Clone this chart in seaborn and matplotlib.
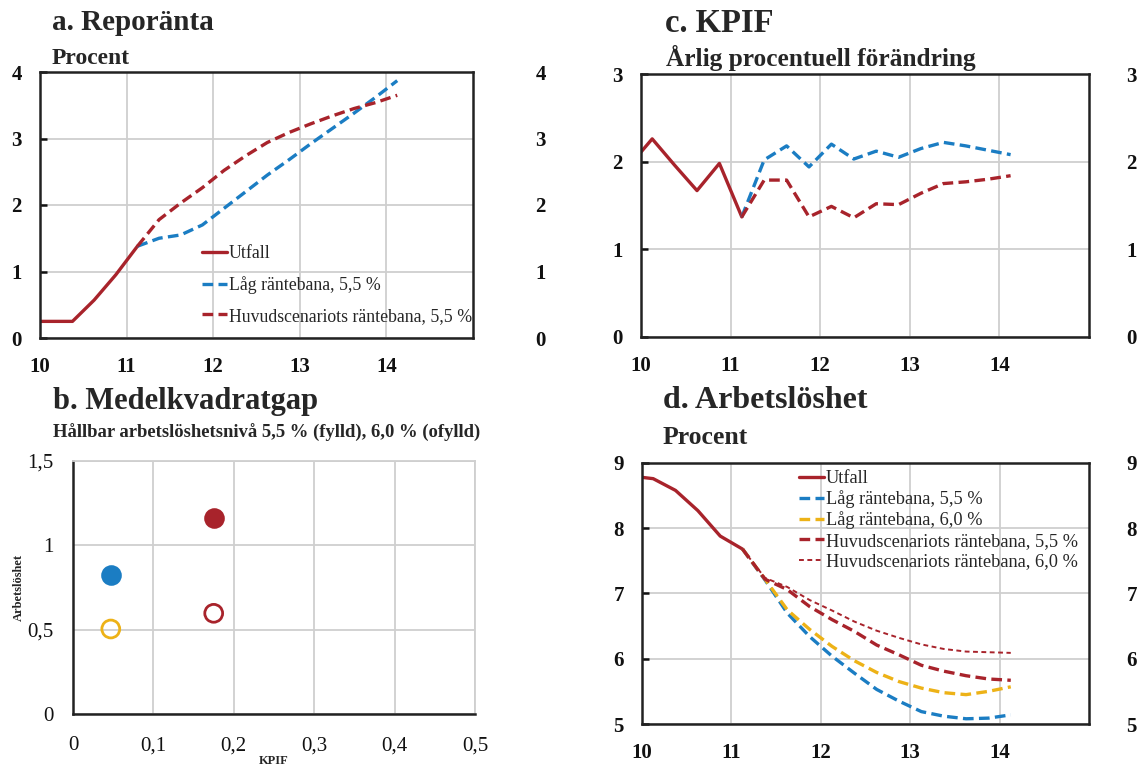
import numpy as np
import pandas as pd
import matplotlib
matplotlib.use("Agg")
import matplotlib.pyplot as plt
import seaborn as sns

# ---------------- data ----------------
# a. Reporänta
q_out = [9.875, 10.125, 10.375, 10.625, 10.875, 11.125]
q_fc = [11.125, 11.375, 11.625, 11.875, 12.125, 12.375, 12.625, 12.875,
        13.125, 13.375, 13.625, 13.875, 14.125]
repo_out = [0.25, 0.25, 0.25, 0.57, 0.95, 1.38]
repo_low55 = [1.38, 1.50, 1.55, 1.70, 1.95, 2.20, 2.45, 2.68, 2.92, 3.15, 3.38, 3.62, 3.87]
repo_main55 = [1.38, 1.78, 2.03, 2.26, 2.52, 2.74, 2.94, 3.09, 3.22, 3.34, 3.45, 3.54, 3.65]

# c. KPIF
kpif_out = [1.96, 2.26, 1.96, 1.67, 1.98, 1.37]
kpif_low55 = [1.37, 2.02, 2.18, 1.94, 2.20, 2.03, 2.12, 2.05, 2.15, 2.22, 2.18, 2.13, 2.08]
kpif_main55 = [1.37, 1.79, 1.79, 1.37, 1.49, 1.36, 1.52, 1.51, 1.64, 1.75, 1.77, 1.80, 1.84]

# d. Arbetslöshet
u_out = [8.80, 8.76, 8.58, 8.27, 7.88, 7.68]
u_low55 = [7.68, 7.21, 6.70, 6.34, 6.04, 5.78, 5.53, 5.35, 5.19, 5.12, 5.08, 5.09, 5.14]
u_low60 = [7.68, 7.22, 6.75, 6.45, 6.19, 5.97, 5.79, 5.65, 5.55, 5.48, 5.45, 5.50, 5.57]
u_main55 = [7.68, 7.22, 7.06, 6.80, 6.60, 6.42, 6.21, 6.06, 5.90, 5.81, 5.74, 5.69, 5.67]
u_main60 = [7.68, 7.24, 7.10, 6.90, 6.74, 6.57, 6.43, 6.32, 6.22, 6.15, 6.11, 6.10, 6.09]

# b. Medelkvadratgap
gap_names = ["Låg 5,5", "Huvud 5,5", "Låg 6,0", "Huvud 6,0"]
gap_kpif = [0.047, 0.175, 0.047, 0.175]
gap_unemp = [0.824, 1.165, 0.504, 0.597]
gap_filled = [True, True, False, False]

x_ticks = [10, 11, 12, 13, 14]
x_ticklabels = ["10", "11", "12", "13", "14"]

lbl_out = "Utfall"
lbl_low55 = "Låg räntebana, 5,5 %"
lbl_low60 = "Låg räntebana, 6,0 %"
lbl_main55 = "Huvudscenariots räntebana, 5,5 %"
lbl_main60 = "Huvudscenariots räntebana, 6,0 %"

RED = "#A8232B"
BLUE = "#1B7DC3"
YELLOW = "#EDB217"
GRID = "#CFCFCF"

# ---------------- style ----------------
sns.set_theme(style="white")
plt.rcParams["font.family"] = ["Liberation Serif", "DejaVu Serif"]
plt.rcParams["axes.unicode_minus"] = False

fig = plt.figure(figsize=(11.4, 7.65), dpi=100)
W, H = 1140, 765


def fx(px):
    return px / W


def fy(py):
    return 1 - py / H


def make_ax(l, t, r, b):
    return fig.add_axes([fx(l), fy(b), fx(r - l), (b - t) / H])


def style_line_ax(ax, ylim, yticks, right_pad):
    ax.set_xlim(10, 15)
    ax.set_ylim(*ylim)
    ax.set_xticks(x_ticks)
    ax.set_xticklabels(x_ticklabels)
    ax.set_yticks(yticks)
    ax.set_yticklabels([str(v) for v in yticks])
    ax.grid(True, color=GRID, lw=1.3)
    ax.set_axisbelow(True)
    for s in ax.spines.values():
        s.set_visible(True)
        s.set_color("#222222")
        s.set_linewidth(1.8)
    ax.tick_params(axis="y", direction="in", length=5, width=1.8,
                   left=True, right=True, pad=13, labelsize=15, colors="#111111")
    ax.tick_params(axis="x", length=0, pad=14, labelsize=15, colors="#111111")
    for lab in ax.get_xticklabels() + ax.get_yticklabels():
        lab.set_fontweight("bold")
    ax.set_xlabel("")
    ax.set_ylabel("")
    ax2 = ax.twinx()
    ax2.set_ylim(*ylim)
    ax2.set_yticks(yticks)
    ax2.set_yticklabels([str(v) for v in yticks])
    ax2.tick_params(axis="y", length=0, pad=right_pad, labelsize=15, colors="#111111")
    for lab in ax2.get_yticklabels():
        lab.set_fontweight("bold")
    for s in ax2.spines.values():
        s.set_visible(False)
    ax2.grid(False)
    return ax2


def line(ax, x, y, color, lw, ls, label):
    sns.lineplot(x=x, y=y, ax=ax, color=color, lw=lw, linestyle=ls,
                 label=label, sort=False, estimator=None)


DASH = (0, (3.2, 1.6))
DASH_THIN = (0, (2.5, 1.8))

# ---------------- panel a ----------------
ax_a = make_ax(40, 72, 473, 338)
line(ax_a, q_out, repo_out, RED, 2.4, "-", lbl_out)
line(ax_a, q_fc, repo_low55, BLUE, 2.4, DASH, lbl_low55)
line(ax_a, q_fc, repo_main55, RED, 2.4, DASH, lbl_main55)
style_line_ax(ax_a, (0, 4), [0, 1, 2, 3, 4], 45)
h, l = ax_a.get_legend_handles_labels()
ax_a.legend(h, l, loc="upper left", bbox_to_anchor=(fx(202), fy(245)),
            bbox_transform=fig.transFigure, frameon=False, fontsize=12.8,
            handlelength=1.4, handletextpad=0.1, labelspacing=0.78,
            borderpad=0, borderaxespad=0)

# ---------------- panel c ----------------
ax_c = make_ax(641, 74, 1089, 337)
line(ax_c, q_out, kpif_out, RED, 2.4, "-", lbl_out)
line(ax_c, q_fc, kpif_low55, BLUE, 2.4, DASH, lbl_low55)
line(ax_c, q_fc, kpif_main55, RED, 2.4, DASH, lbl_main55)
style_line_ax(ax_c, (0, 3), [0, 1, 2, 3], 27)
ax_c.get_legend().remove()

# ---------------- panel d ----------------
ax_d = make_ax(642, 463, 1089, 724)
line(ax_d, q_out, u_out, RED, 2.4, "-", lbl_out)
line(ax_d, q_fc, u_low55, BLUE, 2.4, DASH, lbl_low55)
line(ax_d, q_fc, u_low60, YELLOW, 2.4, DASH, lbl_low60)
line(ax_d, q_fc, u_main55, RED, 2.4, DASH, lbl_main55)
line(ax_d, q_fc, u_main60, RED, 1.4, DASH_THIN, lbl_main60)
style_line_ax(ax_d, (5, 9), [5, 6, 7, 8, 9], 27)
h, l = ax_d.get_legend_handles_labels()
ax_d.legend(h, l, loc="upper left", bbox_to_anchor=(fx(799), fy(470)),
            bbox_transform=fig.transFigure, frameon=False, fontsize=13.2,
            handlelength=1.35, handletextpad=0.1, labelspacing=0.18,
            borderpad=0, borderaxespad=0)

# ---------------- panel b ----------------
ax_b = make_ax(73, 461, 475, 714)
gap_df = pd.DataFrame({"name": gap_names, "KPIF": gap_kpif,
                       "Arbetslöshet": gap_unemp, "filled": gap_filled})
gap_colors = {"Låg 5,5": BLUE, "Huvud 5,5": RED, "Låg 6,0": YELLOW, "Huvud 6,0": RED}
for _, row in gap_df.iterrows():
    c = gap_colors[row["name"]]
    sns.scatterplot(x=[row["KPIF"]], y=[row["Arbetslöshet"]], ax=ax_b,
                    color=c, s=165, linewidth=2.0, edgecolor=c, legend=False, zorder=3)
    if not row["filled"]:
        coll = ax_b.collections[-1]
        coll.set_facecolor("none")
        coll.set_edgecolor(c)
ax_b.set_xlim(0, 0.5)
ax_b.set_ylim(0, 1.5)
b_xt = [0, 0.1, 0.2, 0.3, 0.4, 0.5]
b_yt = [0, 0.5, 1.0, 1.5]
ax_b.set_xticks(b_xt)
ax_b.set_xticklabels(["0", "0,1", "0,2", "0,3", "0,4", "0,5"])
ax_b.set_yticks(b_yt)
ax_b.set_yticklabels(["0", "0,5", "1", "1,5"])
ax_b.grid(True, color=GRID, lw=1.3)
ax_b.set_axisbelow(True)
for side, s in ax_b.spines.items():
    s.set_visible(True)
    if side in ("left", "bottom"):
        s.set_color("#222222")
        s.set_linewidth(1.8)
    else:
        s.set_color(GRID)
        s.set_linewidth(1.3)
ax_b.tick_params(axis="both", direction="in", length=4, width=1.8,
                 labelsize=15, colors="#111111")
ax_b.tick_params(axis="y", pad=14)
ax_b.tick_params(axis="x", pad=16)
ax_b.set_xlabel("KPIF", fontsize=9, fontweight="bold", labelpad=0)
ax_b.set_ylabel("Arbetslöshet", fontsize=9, fontweight="bold", labelpad=2)

# ---------------- titles ----------------
fig.text(fx(52), fy(23), "a. Reporänta", fontsize=21, fontweight="bold", va="center")
fig.text(fx(52), fy(58), "Procent", fontsize=17, fontweight="bold", va="center")
fig.text(fx(665), fy(23), "c. KPIF", fontsize=23.5, fontweight="bold", va="center")
fig.text(fx(666), fy(58), "Årlig procentuell förändring", fontsize=18.3, fontweight="bold", va="center")
fig.text(fx(53), fy(401), "b. Medelkvadratgap", fontsize=22, fontweight="bold", va="center")
fig.text(fx(53), fy(433), "Hållbar arbetslöshetsnivå 5,5 % (fylld), 6,0 % (ofylld)",
         fontsize=13.4, fontweight="bold", va="center")
fig.text(fx(663), fy(401), "d. Arbetslöshet", fontsize=23, fontweight="bold", va="center")
fig.text(fx(663), fy(437), "Procent", fontsize=18.5, fontweight="bold", va="center")

fig.savefig("out.png", dpi=100, facecolor="white")
